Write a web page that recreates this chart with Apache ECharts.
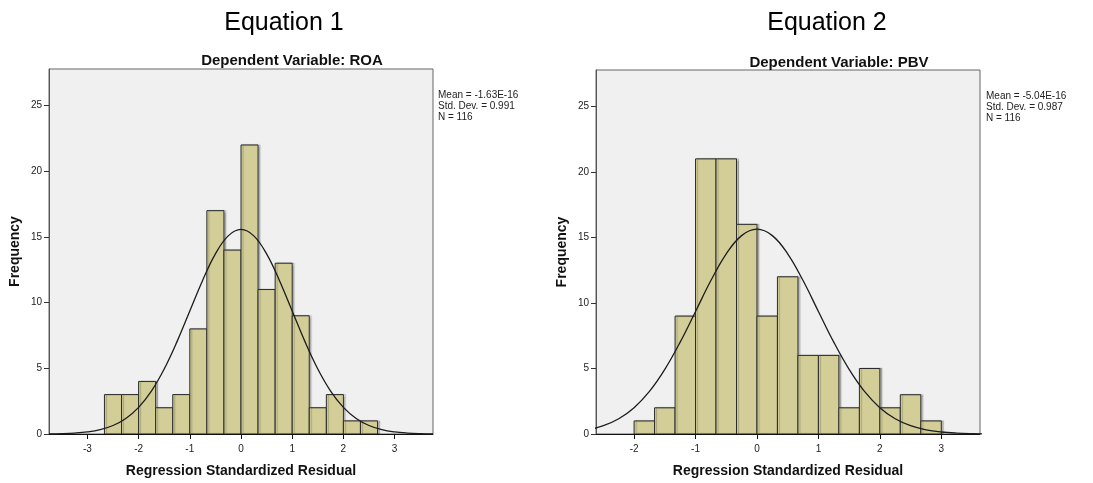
<!DOCTYPE html>
<html>
<head>
<meta charset="utf-8">
<script src="https://cdn.jsdelivr.net/npm/echarts@6/dist/echarts.min.js"></script>
<style>html,body{margin:0;padding:0;background:#fff;}#c{width:1093px;height:483px;}</style>
</head>
<body>
<div id="c"></div>
<script>
// ---- Data ----
const roaBinEdges = [-2.667, -2.333, -2, -1.667, -1.333, -1, -0.667, -0.333, 0, 0.333, 0.667, 1, 1.333, 1.667, 2, 2.333, 2.667];
const roaCounts = [3, 3, 4, 2, 3, 8, 17, 14, 22, 11, 13, 9, 2, 3, 1, 1];
const pbvBinEdges = [-2, -1.667, -1.333, -1, -0.667, -0.333, 0, 0.333, 0.667, 1, 1.333, 1.667, 2, 2.333, 2.667, 3];
const pbvCounts = [1, 2, 9, 21, 21, 16, 9, 12, 6, 6, 2, 5, 2, 3, 1];

const curveX = [-3.75, -3.5, -3.25, -3, -2.75, -2.5, -2.25, -2, -1.75, -1.5, -1.25, -1, -0.75, -0.5, -0.25, 0,
  0.25, 0.5, 0.75, 1, 1.25, 1.5, 1.75, 2, 2.25, 2.5, 2.75, 3, 3.25, 3.5, 3.75];
const roaCurve = [0.012, 0.030, 0.072, 0.159, 0.331, 0.646, 1.18, 2.03, 3.27, 4.95, 7.03, 9.36, 11.69, 13.71, 15.08, 15.57,
  15.08, 13.71, 11.69, 9.36, 7.03, 4.95, 3.27, 2.03, 1.18, 0.646, 0.331, 0.159, 0.072, 0.030, 0.012];
const pbvCurve = [0.011, 0.029, 0.069, 0.154, 0.322, 0.632, 1.162, 2.01, 3.25, 4.93, 7.01, 9.35, 11.71, 13.75, 15.14, 15.63,
  15.14, 13.75, 11.71, 9.35, 7.01, 4.93, 3.25, 2.01, 1.162, 0.632, 0.322, 0.154, 0.069, 0.029, 0.011];

const xTickLabels = [-3, -2, -1, 0, 1, 2, 3];
const pbvXTickLabels = [-2, -1, 0, 1, 2, 3];
const yTickLabels = [0, 5, 10, 15, 20, 25];

const roaStats = ['Mean = -1.63E-16', 'Std. Dev. = 0.991', 'N = 116'];
const pbvStats = ['Mean = -5.04E-16', 'Std. Dev. = 0.987', 'N = 116'];

// ---- Chart ----
const FONT = 'Liberation Sans, Arial, Helvetica, sans-serif';
const chart = echarts.init(document.getElementById('c'), null, { renderer: 'canvas' });

function histData(edges, counts) {
  return counts.map((c, i) => [edges[i], edges[i + 1], c]);
}
function renderBar(params, api) {
  const p0 = api.coord([api.value(0), api.value(2)]);
  const p1 = api.coord([api.value(1), 0]);
  return {
    type: 'rect',
    shape: { x: p0[0], y: p0[1], width: p1[0] - p0[0], height: p1[1] - p0[1] },
    style: {
      fill: '#d3ce98', stroke: '#2b2b2b', lineWidth: 1,
      shadowColor: 'rgba(0,0,0,0.22)', shadowOffsetX: 2, shadowOffsetY: 0, shadowBlur: 1
    }
  };
}
function xAxis(idx, min, max, ticks) {
  return {
    type: 'value', gridIndex: idx, min: min, max: max,
    name: 'Regression Standardized Residual', nameLocation: 'middle', nameGap: 30,
    nameTextStyle: { fontFamily: FONT, fontWeight: 'bold', fontSize: 14, color: '#111' },
    axisLine: { show: true, onZero: false, lineStyle: { color: '#111', width: 1 } },
    axisTick: { show: true, length: 5, inside: false, customValues: ticks, lineStyle: { color: '#111' } },
    axisLabel: { fontFamily: FONT, fontSize: 10, color: '#222', margin: 10, customValues: ticks },
    splitLine: { show: false }
  };
}
function yAxis(idx) {
  return {
    type: 'value', gridIndex: idx, min: 0, max: 27.78,
    name: 'Frequency', nameLocation: 'middle', nameGap: 27, nameRotate: 90,
    nameTextStyle: { fontFamily: FONT, fontWeight: 'bold', fontSize: 14, color: '#111' },
    axisLine: { show: true, onZero: false, lineStyle: { color: '#555', width: 1 } },
    axisTick: { show: true, length: 5, inside: false, customValues: yTickLabels, lineStyle: { color: '#333' } },
    axisLabel: { fontFamily: FONT, fontSize: 10, color: '#222', margin: 7, customValues: yTickLabels },
    splitLine: { show: false }
  };
}

const option = {
  backgroundColor: '#ffffff',
  animation: false,
  title: [
    { text: 'Equation 1', left: 279, top: 6, textAlign: 'center',
      textStyle: { fontFamily: FONT, fontSize: 25, fontWeight: 'normal', color: '#000' } },
    { text: 'Dependent Variable: ROA', left: 287, top: 48, textAlign: 'center',
      textStyle: { fontFamily: FONT, fontSize: 15, fontWeight: 'bold', color: '#111' } },
    { text: 'Equation 2', left: 822, top: 6, textAlign: 'center',
      textStyle: { fontFamily: FONT, fontSize: 25, fontWeight: 'normal', color: '#000' } },
    { text: 'Dependent Variable: PBV', left: 834, top: 50, textAlign: 'center',
      textStyle: { fontFamily: FONT, fontSize: 15, fontWeight: 'bold', color: '#111' } }
  ],
  grid: [
    { left: 49, top: 69, width: 384, height: 367, show: true, backgroundColor: '#f0f0f0', borderColor: '#666', borderWidth: 1 },
    { left: 596, top: 70, width: 384, height: 369, show: true, backgroundColor: '#f0f0f0', borderColor: '#666', borderWidth: 1 }
  ],
  xAxis: [xAxis(0, -3.75, 3.75, xTickLabels), xAxis(1, -2.62, 3.63, pbvXTickLabels)],
  yAxis: [yAxis(0), yAxis(1)],
  graphic: [
    { type: 'text', left: 438, top: 90, silent: true,
      style: { text: roaStats.join('\n'), font: '10px ' + FONT, fill: '#222', lineHeight: 10.7 } },
    { type: 'text', left: 986, top: 91, silent: true,
      style: { text: pbvStats.join('\n'), font: '10px ' + FONT, fill: '#222', lineHeight: 10.7 } }
  ],
  series: [
    { type: 'custom', xAxisIndex: 0, yAxisIndex: 0, renderItem: renderBar,
      encode: { x: [0, 1], y: 2 }, data: histData(roaBinEdges, roaCounts), clip: true },
    { type: 'line', xAxisIndex: 0, yAxisIndex: 0, smooth: 0.4, showSymbol: false, symbol: 'none',
      clip: true, lineStyle: { color: '#1c1c1c', width: 1.3 }, z: 5,
      data: curveX.map((x, i) => [x, roaCurve[i]]) },
    { type: 'custom', xAxisIndex: 1, yAxisIndex: 1, renderItem: renderBar,
      encode: { x: [0, 1], y: 2 }, data: histData(pbvBinEdges, pbvCounts), clip: true },
    { type: 'line', xAxisIndex: 1, yAxisIndex: 1, smooth: 0.4, showSymbol: false, symbol: 'none',
      clip: true, lineStyle: { color: '#1c1c1c', width: 1.3 }, z: 5,
      data: curveX.map((x, i) => [x, pbvCurve[i]]) }
  ]
};
chart.setOption(option);
</script>
</body>
</html>
